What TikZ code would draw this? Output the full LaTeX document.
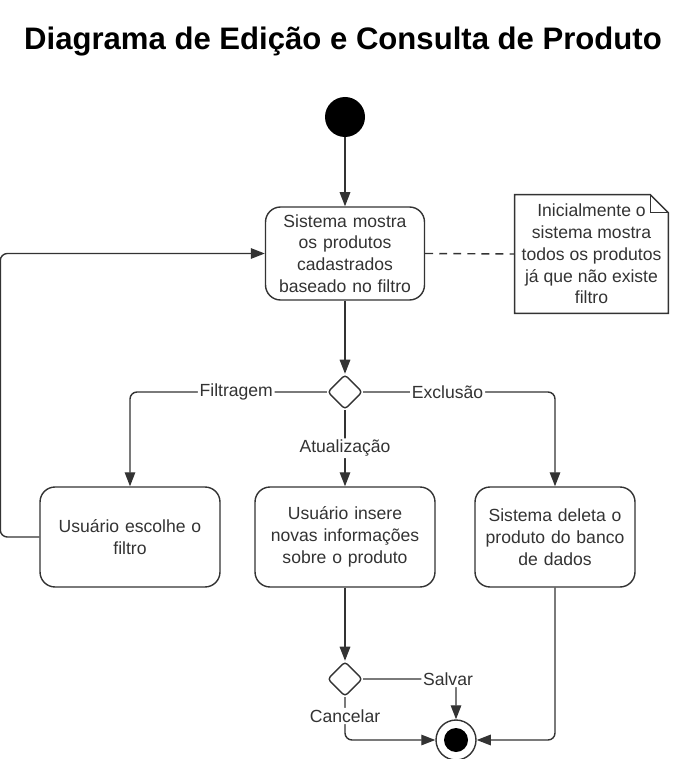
\documentclass[tikz,border=0pt]{standalone}
\usepackage{fontspec}
\setmainfont{Liberation Sans}
\usetikzlibrary{arrows.meta,positioning,calc,shapes.geometric}
\definecolor{ink}{RGB}{51,51,51}

\begin{document}
\begin{tikzpicture}[x=0.02cm,y=-0.02cm,
    every node/.style={font=\fontsize{10}{12.4}\selectfont,text=ink,align=center,inner sep=2pt},
    acao/.style={draw=ink,line width=0.8pt,rounded corners=0.3cm,fill=white,minimum height=2cm},
    decisao/.style={diamond,draw=ink,line width=0.8pt,rounded corners=2pt,minimum width=0.7cm,minimum height=0.7cm,inner sep=0pt,fill=white},
    nota/.style={minimum width=3.06cm,minimum height=2.36cm},
    rotulo/.style={fill=white,inner sep=1pt},
    seta/.style={-{Triangle[length=8pt,width=6pt]},draw=ink,line width=0.8pt,rounded corners=4pt}]
    \useasboundingbox (0,0) rectangle (676,759);
    \node[font=\bfseries\fontsize{17.7}{22}\selectfont,text=black] (titulo) at (343,42) {Diagrama de Edição e Consulta de Produto};
    \node[circle,fill=black,minimum size=0.8cm,inner sep=0pt] (inicio) at (345,117) {};
    \node[acao,minimum width=3.18cm,minimum height=1.86cm,text width=3cm] (mostra) at (345,253.5) {Sistema mostra\\os produtos\\cadastrados\\baseado no filtro};
    \node[nota] (lembrete) at (591.5,254) {Inicialmente o\\sistema mostra\\todos os produtos\\já que não existe\\filtro};
    \draw[ink,line width=0.8pt] (lembrete.south west) -- (lembrete.north west) -- ($(lembrete.north east)+(-18,0)$) -- ($(lembrete.north east)+(0,18)$) -- (lembrete.south east) -- cycle;
    \draw[ink,line width=0.8pt] ($(lembrete.north east)+(-18,0)$) |- ($(lembrete.north east)+(0,18)$);
    \node[decisao] (escolha) at (345,392) {};
    \node[acao,minimum width=3.6cm,text width=3.3cm] (filtro) at (130,537) {Usuário escolhe o\\filtro};
    \node[acao,minimum width=3.6cm,text width=3.3cm] (atualiza) at (345,537) {Usuário insere\\novas informações\\sobre o produto};
    \node[acao,minimum width=3.2cm,text width=3cm] (deleta) at (555,537) {Sistema deleta o\\produto do banco\\de dados};
    \node[decisao] (salvar) at (345,679) {};
    \node[circle,draw=ink,line width=0.8pt,fill=white,minimum size=0.8cm,inner sep=0pt] (fim) at (456,740) {};
    \node[circle,fill=black,minimum size=0.48cm,inner sep=0pt] (fimmiolo) at (fim) {};
    % ligacoes
    \draw[ink,line width=0.8pt,dash pattern=on 4.5pt off 3.5pt] (mostra.east) -- (lembrete.west);
    \draw[seta] (inicio) -- (mostra.north);
    \draw[seta] (mostra) -- (escolha);
    \draw[seta] (escolha.west) -| node[rotulo,pos=0.23]{Filtragem} (filtro.north);
    \draw[seta] (escolha.south) -- node[rotulo]{Atualização} (atualiza.north);
    \draw[seta] (escolha.east) -| node[rotulo,pos=0.22]{Exclusão} (deleta.north);
    \draw[seta] (filtro.west) -- ++(-39,0) |- (mostra.west);
    \draw[seta] (atualiza) -- (salvar);
    \draw[seta] (salvar.east) -| node[rotulo,pos=0.5,xshift=-0.16cm]{Salvar} (fim.north);
    \draw[seta] (salvar.south) |- node[rotulo,pos=0.22]{Cancelar} (fim.west);
    \draw[seta] (deleta.south) |- (fim.east);
\end{tikzpicture}
\end{document}
